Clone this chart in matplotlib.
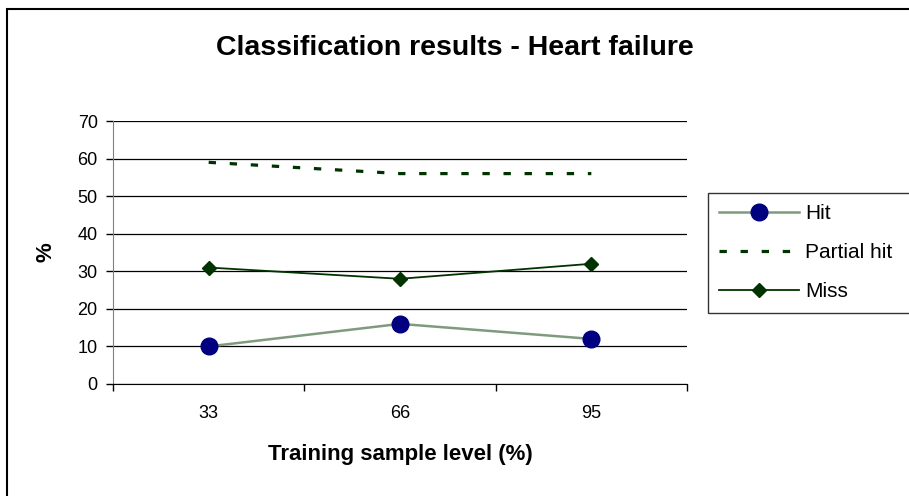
import numpy as np
import matplotlib.pyplot as plt
from matplotlib.patches import Rectangle

plt.rcParams['font.family'] = ['Liberation Sans', 'DejaVu Sans']

# Data
levels = ['33', '66', '95']
hit = [10, 16, 12]
partial_hit = [59, 56, 56]
miss = [31, 28, 32]

fig = plt.figure(figsize=(9.09, 4.96), dpi=100)
ax = fig.add_axes([113 / 909, 1 - 384 / 496, (687 - 113) / 909, (384 - 121) / 496])

x = np.arange(len(levels)) + 0.5

ax.plot(x, hit, color='#7f9a7f', lw=1.8, marker='o', markersize=12,
        markerfacecolor='#000080', markeredgecolor='#000080', label='Hit', zorder=3)
ax.plot(x, partial_hit, color='#003300', lw=2.3, linestyle=(0, (2.3, 4.3)),
        dash_capstyle='butt', label='Partial hit', zorder=3)
ax.plot(x, miss, color='#003300', lw=1.3, marker='D', markersize=7.3,
        markerfacecolor='#003300', markeredgecolor='#003300', label='Miss', zorder=3)

ax.set_xlim(0, len(levels))
ax.set_ylim(0, 70)
ax.set_yticks(np.arange(0, 71, 10))
ax.yaxis.grid(True, color='black', lw=0.9)
ax.set_axisbelow(True)

ax.set_xticks(np.arange(0, len(levels) + 1))
ax.set_xticklabels([])
ax.set_xticks(x, minor=True)
ax.set_xticklabels(levels, minor=True)
ax.tick_params(axis='x', which='minor', length=0, pad=15, labelsize=13)
ax.tick_params(axis='x', which='major', length=5, width=1, color='black', direction='out')
ax.tick_params(axis='y', length=5, width=1, direction='out', labelsize=13, pad=6)

for s in ['top', 'right']:
    ax.spines[s].set_visible(False)
ax.spines['left'].set_color('#808080')
ax.spines['bottom'].set_color('black')

ax.set_xlabel('Training sample level (%)', fontsize=16, fontweight='bold')
ax.xaxis.set_label_coords(0.5, (384 - 444) / 263)
ax.set_ylabel('%', fontsize=16, fontweight='bold')
ax.yaxis.label.set_va('center')
ax.yaxis.set_label_coords((46 - 113) / 574, 0.5)

fig.text(455 / 909, 1 - 48 / 496, 'Classification results - Heart failure',
         ha='center', va='center', fontsize=20.5, fontweight='bold')

leg = ax.legend(loc='upper left', bbox_to_anchor=(708 / 909, 1 - 312 / 496, 0.3, 119 / 496),
                bbox_transform=fig.transFigure, mode='expand', frameon=True, fancybox=False,
                edgecolor='black', fontsize=15, handlelength=3.8, borderaxespad=0,
                borderpad=0.55, labelspacing=0.95, handletextpad=0.3)
leg.get_frame().set_linewidth(1)

# outer chart border
fig.patches.append(Rectangle((7 / 909, -0.1), 1.1, 1 - 9 / 496 + 0.1, transform=fig.transFigure,
                             fill=False, edgecolor='black', lw=1.5))

fig.savefig('out.png', dpi=100)
